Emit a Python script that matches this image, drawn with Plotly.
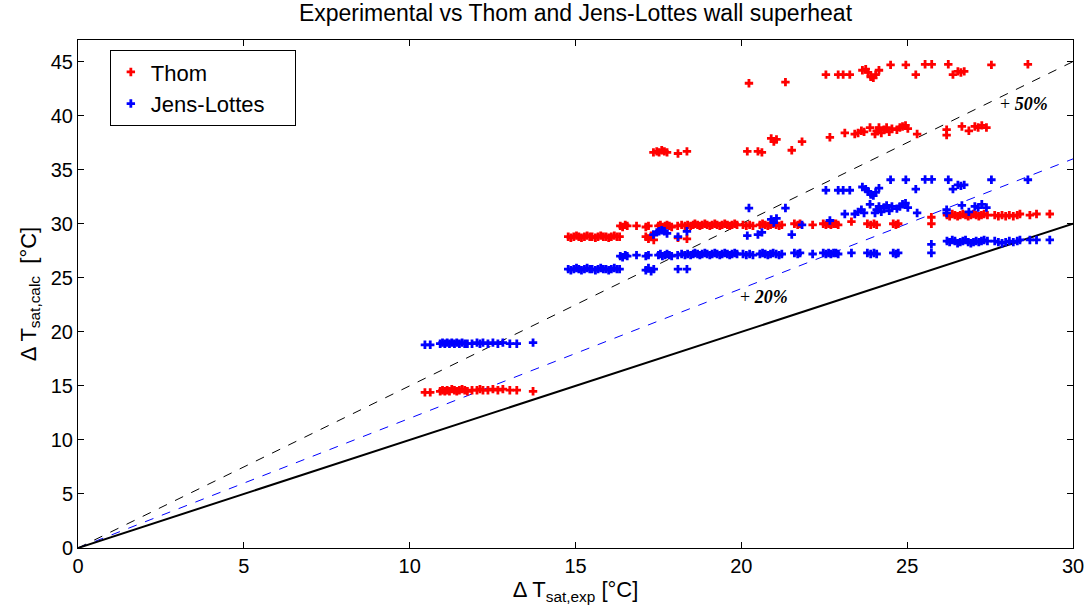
import plotly.graph_objects as go

# ---- Data (x = experimental, thom / jl = calculated) ----
# Cluster 1: low superheat
exp_1 = [10.46, 10.62, 10.92, 10.99, 11.06, 11.13, 11.2, 11.27, 11.35, 11.42, 11.5, 11.58, 11.66,
         11.74, 11.88, 12.03, 12.12, 12.21, 12.36, 12.51, 12.66, 12.81, 13.02, 13.23, 13.72]
thom_1 = [14.4, 14.4, 14.5, 14.6, 14.5, 14.6, 14.5, 14.7, 14.6, 14.5, 14.6, 14.7, 14.6,
          14.5, 14.6, 14.6, 14.7, 14.6, 14.6, 14.7, 14.6, 14.7, 14.6, 14.6, 14.5]
jl_1 = [18.8, 18.8, 18.9, 19.0, 18.9, 19.0, 18.9, 19.0, 18.9, 19.0, 18.9, 19.0, 18.9,
        18.9, 18.9, 19.0, 18.9, 19.0, 18.9, 19.0, 18.9, 19.0, 18.9, 18.9, 19.0]

# Cluster 2
exp_2 = [14.78, 14.86, 14.95, 15.03, 15.1, 15.18, 15.27, 15.35, 15.43, 15.5,
         15.6, 15.68, 15.76, 15.84, 15.92, 16.0, 16.08, 16.17, 16.25, 16.33]
thom_2 = [28.8, 28.7, 28.8, 28.9, 28.8, 28.7, 28.8, 28.9, 28.8, 28.8,
          28.7, 28.8, 28.9, 28.8, 28.8, 28.7, 28.8, 28.9, 28.8, 28.8]
jl_2 = [25.8, 25.7, 25.8, 25.9, 25.8, 25.7, 25.8, 25.9, 25.8, 25.8,
        25.7, 25.8, 25.9, 25.8, 25.8, 25.7, 25.8, 25.9, 25.8, 25.8]

# Cluster 3: long middle rows
exp_3 = [16.35, 16.42, 16.5, 16.56, 16.84, 17.12, 17.2, 17.5, 17.56, 17.62, 17.7, 17.76, 17.83,
         17.9, 18.08, 18.2, 18.3, 18.38, 18.47, 18.55, 18.6, 18.68, 18.75, 18.82, 18.9, 18.97,
         19.05, 19.12, 19.2, 19.27, 19.35, 19.42, 19.5, 19.58, 19.65, 19.72, 19.8, 19.87, 20.05,
         20.15, 20.25, 20.35, 20.56, 20.64, 20.72, 20.8, 20.88, 20.96, 21.05, 21.14, 21.22, 21.6,
         21.7, 21.77, 22.15, 22.47, 22.55, 22.63, 22.7, 22.78, 22.85, 22.92, 23.32, 23.8, 23.9,
         24.0, 24.08, 24.58, 24.66, 24.73, 25.73]
thom_3 = [29.8, 29.7, 29.9, 29.8, 29.8, 29.7, 29.8, 29.8, 29.9, 29.7, 29.8, 29.9, 29.8,
          29.7, 29.8, 29.9, 29.8, 29.9, 29.8, 29.9, 30.0, 29.9, 29.8, 29.9, 30.0, 29.9,
          29.8, 29.9, 30.0, 29.9, 29.8, 29.9, 30.0, 29.9, 29.8, 29.9, 30.0, 29.9, 29.9,
          29.8, 29.9, 29.8, 29.9, 30.0, 29.9, 29.8, 29.9, 30.0, 29.9, 29.8, 29.9, 30.0,
          29.9, 30.0, 29.9, 30.0, 29.9, 30.0, 29.9, 30.0, 30.0, 29.9, 30.2, 30.0, 29.9,
          30.0, 29.9, 30.0, 29.9, 30.0, 30.0]
jl_3 = [27.0, 26.9, 27.1, 27.0, 27.1, 27.0, 27.1, 27.1, 27.2, 27.0, 27.1, 27.2, 27.1,
        27.0, 27.1, 27.2, 27.1, 27.2, 27.1, 27.2, 27.3, 27.2, 27.1, 27.2, 27.3, 27.2,
        27.1, 27.2, 27.3, 27.2, 27.1, 27.2, 27.3, 27.2, 27.1, 27.2, 27.3, 27.2, 27.2,
        27.1, 27.2, 27.1, 27.2, 27.3, 27.2, 27.1, 27.2, 27.3, 27.2, 27.1, 27.2, 27.3,
        27.2, 27.3, 27.2, 27.3, 27.2, 27.3, 27.2, 27.3, 27.3, 27.2, 27.3, 27.3, 27.2,
        27.3, 27.2, 27.3, 27.2, 27.3, 27.3]

# Cluster 4
exp_4 = [17.12, 17.2, 17.28, 17.36, 18.09, 18.36]
thom_4 = [28.8, 28.6, 28.9, 28.5, 28.7, 28.6]
jl_4 = [25.7, 25.9, 25.6, 25.8, 25.8, 25.8]

# Cluster 5
exp_5 = [17.35, 17.45, 17.52, 17.6, 17.68, 17.76, 18.09, 18.36]
thom_5 = [36.6, 36.7, 36.6, 36.8, 36.7, 36.6, 36.5, 36.7]
jl_5 = [29.0, 29.2, 29.3, 29.4, 29.3, 29.1, 28.8, 29.3]

# Cluster 6: high superheat, scattered
exp_6 = [20.18, 20.23, 20.5, 20.62, 20.9, 20.98, 21.06, 21.33, 21.52, 21.83, 22.55, 22.67,
         22.92, 23.07, 23.27, 23.12, 23.42, 23.52, 23.62, 23.7, 23.65, 23.75, 23.82, 23.9,
         23.98, 24.05, 24.15, 23.88, 24.03, 24.08, 24.15, 24.22, 24.3, 24.38, 24.46, 24.54,
         24.5, 24.69, 24.78, 24.86, 24.95, 25.02, 24.96, 25.26, 25.3, 25.54, 25.74, 25.73,
         26.19, 26.19, 26.24, 26.38, 26.53, 26.62, 26.72, 26.65, 26.86, 27.04, 27.14, 27.25,
         27.39, 27.54, 28.64]
thom_6 = [36.7, 43.0, 36.7, 36.6, 37.9, 37.6, 37.8, 43.1, 36.8, 37.6, 43.8, 38.0,
          43.8, 43.8, 43.8, 38.4, 38.3, 38.4, 38.6, 38.5, 44.2, 44.3, 44.0, 43.6,
          43.5, 43.8, 44.2, 38.9, 38.3, 38.6, 38.9, 38.4, 38.7, 38.9, 38.5, 38.8,
          44.7, 38.7, 38.9, 39.0, 39.1, 38.8, 44.7, 43.8, 38.3, 44.75, 44.75, 30.6,
          38.2, 38.7, 44.75, 43.8, 44.1, 44.0, 44.1, 39.0, 38.6, 39.0, 38.9, 39.1,
          38.9, 44.7, 44.75]
jl_6 = [28.9, 31.45, 29.0, 29.2, 30.4, 30.1, 30.5, 31.45, 29.0, 29.9, 33.1, 30.3,
        33.1, 33.1, 33.1, 30.9, 30.9, 31.1, 31.3, 31.0, 33.4, 33.2, 33.0, 32.7,
        32.6, 32.9, 33.3, 31.8, 31.0, 31.3, 31.6, 31.1, 31.5, 31.7, 31.2, 31.6,
        34.07, 31.4, 31.6, 31.8, 31.9, 31.5, 34.07, 33.2, 31.0, 34.1, 34.1, 28.1,
        31.0, 31.3, 34.07, 33.2, 33.6, 33.5, 33.6, 31.7, 31.1, 31.6, 31.5, 31.8,
        31.5, 34.07, 34.07]

# Cluster 7: right end
exp_7 = [26.2, 26.28, 26.36, 26.44, 26.52, 26.6, 26.68, 26.76, 26.84, 26.92, 27.0, 27.08,
         27.16, 27.24, 27.32, 27.42, 27.64, 27.75, 27.86, 27.97, 28.08, 28.2, 28.32, 28.4,
         28.7, 28.9, 29.3]
thom_7 = [30.8, 30.7, 30.9, 30.8, 30.7, 30.8, 30.9, 30.8, 30.7, 30.8, 30.9, 30.8,
          30.7, 30.8, 30.9, 30.8, 30.8, 30.7, 30.8, 30.7, 30.8, 30.7, 30.8, 30.9,
          30.8, 30.9, 30.9]
jl_7 = [28.4, 28.3, 28.5, 28.4, 28.2, 28.3, 28.4, 28.5, 28.3, 28.2, 28.3, 28.4,
        28.3, 28.4, 28.5, 28.4, 28.4, 28.3, 28.2, 28.3, 28.4, 28.3, 28.4, 28.5,
        28.5, 28.5, 28.5]

exp_all = exp_1 + exp_2 + exp_3 + exp_4 + exp_5 + exp_6 + exp_7
thom_all = thom_1 + thom_2 + thom_3 + thom_4 + thom_5 + thom_6 + thom_7
jl_all = jl_1 + jl_2 + jl_3 + jl_4 + jl_5 + jl_6 + jl_7

# Reference lines (x from 0 to 30): ideal, +20%, +50%
line_x = [0, 30]
ideal_y = [0, 30]
plus20_y = [0, 36]
plus50_y = [0, 45]

fig = go.Figure()

fig.add_trace(go.Scatter(x=line_x, y=plus50_y, mode="lines",
                         line=dict(color="black", width=1, dash="dash"),
                         showlegend=False, hoverinfo="skip"))
fig.add_trace(go.Scatter(x=line_x, y=plus20_y, mode="lines",
                         line=dict(color="blue", width=1, dash="dash"),
                         showlegend=False, hoverinfo="skip"))
fig.add_trace(go.Scatter(x=line_x, y=ideal_y, mode="lines",
                         line=dict(color="black", width=2),
                         showlegend=False, hoverinfo="skip"))

fig.add_trace(go.Scatter(x=exp_all, y=thom_all, mode="markers", name="Thom",
                         marker=dict(symbol="cross", size=7, color="red",
                                     line=dict(width=0))))
fig.add_trace(go.Scatter(x=exp_all, y=jl_all, mode="markers",
                         name="Jens-Lottes\u00a0\u00a0\u00a0\u00a0",
                         marker=dict(symbol="cross", size=7, color="blue",
                                     line=dict(width=0))))

serif = "Liberation Serif, Times New Roman, serif"
fig.add_annotation(x=27.75, y=41.1, xref="x", yref="y", xanchor="left", yanchor="middle",
                   text="+ <b><i>50%</i></b>", showarrow=False,
                   font=dict(family=serif, size=18, color="black"))
fig.add_annotation(x=19.9, y=23.2, xref="x", yref="y", xanchor="left", yanchor="middle",
                   text="+ <b><i>20%</i></b>", showarrow=False,
                   font=dict(family=serif, size=18, color="black"))

sans = "Liberation Sans, Arial, sans-serif"
axis_common = dict(showline=True, linecolor="black", linewidth=1, mirror="ticks",
                   ticks="inside", ticklen=6, tickcolor="black", showgrid=False,
                   zeroline=False, automargin=False,
                   tickfont=dict(family=sans, size=20, color="black"))

fig.update_layout(
    width=1091, height=609,
    paper_bgcolor="white", plot_bgcolor="white",
    margin=dict(l=78, r=18, t=40, b=61),
    title=dict(text="Experimental vs Thom and Jens-Lottes wall superheat",
               x=0.5275, xanchor="center", y=0.978, yanchor="middle",
               font=dict(family=sans, size=23, color="black"), automargin=False),
    xaxis=dict(range=[0, 30], dtick=5, tick0=0,
               title=dict(text="Δ T<sub>sat,exp</sub> [°C]", standoff=0,
                          font=dict(family=sans, size=22, color="black")),
               **axis_common),
    yaxis=dict(range=[0, 47], dtick=5, tick0=0,
               title=dict(text="Δ T<sub>sat,calc</sub>  [°C]", standoff=8,
                          font=dict(family=sans, size=22, color="black")),
               **axis_common),
    legend=dict(x=0.032, y=0.98, xanchor="left", yanchor="top",
                bgcolor="white", bordercolor="black", borderwidth=1,
                font=dict(family=sans, size=22, color="black"),
                itemwidth=30, tracegroupgap=0),
    showlegend=True,
)

fig.write_html("out.html", config={"displayModeBar": False},
               post_script="document.body.style.margin='0px';")
